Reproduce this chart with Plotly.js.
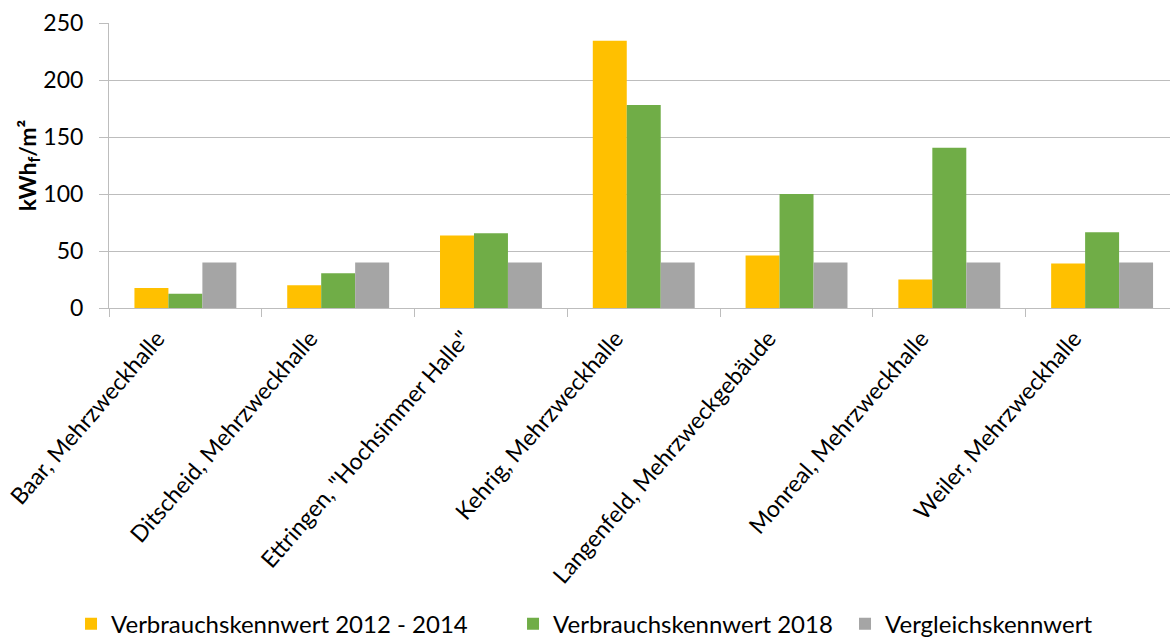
<!DOCTYPE html>
<html>
<head>
<meta charset="utf-8">
<script src="https://cdn.plot.ly/plotly-3.0.1.min.js"></script>
<style>html,body{margin:0;padding:0;background:#fff;}#chart{width:1170px;height:637px;}</style>
</head>
<body>
<div id="chart"></div>
<script>
const categories = [
  "Baar, Mehrzweckhalle",
  "Ditscheid, Mehrzweckhalle",
  "Ettringen, \"Hochsimmer Halle\"",
  "Kehrig, Mehrzweckhalle",
  "Langenfeld, Mehrzweckgebäude",
  "Monreal, Mehrzweckhalle",
  "Weiler, Mehrzweckhalle"
];
const series2012_2014 = [17.5, 20, 63.5, 234.5, 46, 25, 39];
const series2018 = [12.5, 30.5, 65.5, 178, 100, 140.5, 66.5];
const vergleich = [40, 40, 40, 40, 40, 40, 40];
const seriesNames = ["Verbrauchskennwert 2012 - 2014", "Verbrauchskennwert 2018", "Vergleichskennwert"];
const colors = ["#FFC000", "#70AD47", "#A5A5A5"];
const yTicks = [0, 50, 100, 150, 200, 250];

const FONT = "Lato, 'Open Sans', sans-serif";
const values = [series2012_2014, series2018, vergleich];
const legendIds = ["legend", "legend2", "legend3"];
const traces = values.map((v, i) => ({
  type: "bar",
  x: categories,
  y: v,
  name: seriesNames[i],
  legend: legendIds[i],
  marker: {color: colors[i], line: {width: 0}},
  hoverinfo: "x+y"
}));

const gridColor = "#BDBDBD";
const legendX = [-0.0358, 0.3808, 0.6937];
const mkLegend = (x) => ({
  orientation: "h",
  x: x,
  xanchor: "left",
  y: -1.109,
  yanchor: "middle",
  bgcolor: "rgba(0,0,0,0)",
  font: {family: FONT, size: 24, color: "#000"}
});

const layout = {
  width: 1170,
  height: 637,
  paper_bgcolor: "#fff",
  plot_bgcolor: "#fff",
  margin: {l: 109, r: 0, t: 23, b: 329, autoexpand: false},
  barmode: "group",
  bargap: 0.333,
  bargroupgap: 0,
  font: {family: FONT, color: "#000"},
  xaxis: {
    type: "category",
    range: [-0.5, 6.4444],
    tickson: "boundaries",
    ticks: "outside",
    ticklen: 8,
    tickcolor: gridColor,
    showline: true,
    linecolor: gridColor,
    linewidth: 1,
    showgrid: false,
    tickangle: -49,
    ticklabelshift: -28,
    ticklabelstandoff: 7,
    tickfont: {family: FONT, size: 23, color: "#000"},
    automargin: false
  },
  yaxis: {
    range: [0, 250],
    tickvals: yTicks,
    ticktext: yTicks.map(String),
    ticks: "outside",
    ticklen: 9,
    tickcolor: gridColor,
    showline: true,
    linecolor: gridColor,
    linewidth: 1,
    showgrid: true,
    gridcolor: gridColor,
    gridwidth: 1,
    zeroline: false,
    ticklabelstandoff: 11,
    tickfont: {family: FONT, size: 23, color: "#000"},
    title: {text: "<b>kWh<sub>f</sub>/m²</b>", font: {family: FONT, size: 23, color: "#000"}, standoff: 0},
    automargin: false
  },
  showlegend: true,
  legend: mkLegend(legendX[0]),
  legend2: mkLegend(legendX[1]),
  legend3: mkLegend(legendX[2])
};

Plotly.newPlot("chart", traces, layout, {displayModeBar: false, staticPlot: true});
</script>
</body>
</html>
